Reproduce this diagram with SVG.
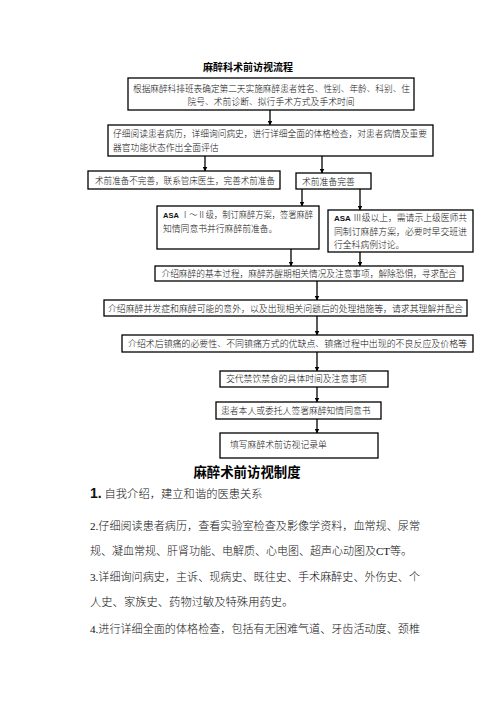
<svg xmlns="http://www.w3.org/2000/svg" width="496" height="702" viewBox="0 0 496 702">
<defs>
<marker id="ah" viewBox="0 0 10 10" refX="9" refY="5" markerWidth="5" markerHeight="5" orient="auto" markerUnits="userSpaceOnUse">
<path d="M0,0 L10,5 L0,10 z" fill="#000"/>
</marker>
<style>
.box{fill:#fff;stroke:#000;stroke-width:1.3}
.t{font-family:"Liberation Serif","Noto Sans CJK SC",serif;font-size:8.8px;font-weight:300;fill:#111}
.a{font-family:"Liberation Sans","Noto Sans CJK SC",sans-serif;font-weight:bold}
.ttl{font-family:"Noto Sans CJK SC",sans-serif;font-weight:bold;fill:#000}
.body{font-family:"Liberation Serif","Noto Sans CJK SC",serif;font-size:11.3px;font-weight:300;fill:#111}
.c{stroke:#000;stroke-width:1.3;fill:none}
.ca{stroke:#000;stroke-width:1.3;fill:none;marker-end:url(#ah)}
</style>
</defs>
<rect width="496" height="702" fill="#fff"/>
<text class="ttl" x="248" y="71" font-size="10" text-anchor="middle">麻醉科术前访视流程</text>

<g id="connectors">
<line class="ca" x1="270" y1="110" x2="270" y2="125"/>
<line class="ca" x1="205" y1="156" x2="205" y2="171"/>
<line class="ca" x1="322" y1="156" x2="322" y2="173"/>
<line class="ca" x1="302" y1="189" x2="302" y2="206"/>
<line class="ca" x1="360" y1="189" x2="360" y2="210"/>
<line class="ca" x1="291" y1="249" x2="291" y2="266"/>
<line class="ca" x1="360" y1="252" x2="360" y2="266"/>
<line class="ca" x1="317" y1="281" x2="317" y2="300"/>
<line class="ca" x1="317" y1="316" x2="317" y2="335"/>
<line class="ca" x1="317" y1="352" x2="317" y2="371"/>
<line class="ca" x1="317" y1="387" x2="317" y2="402"/>
<line class="ca" x1="317" y1="419" x2="317" y2="433"/>
</g>

<g id="n1">
<rect class="box" x="128" y="78" width="286" height="32"/>
<text class="t" x="133" y="92" textLength="277" lengthAdjust="spacingAndGlyphs">根据麻醉科排班表确定第二天实施麻醉患者姓名、性别、年龄、科别、住</text>
<text class="t" x="271" y="105" text-anchor="middle">院号、术前诊断、拟行手术方式及手术时间</text>
</g>
<g id="n2">
<rect class="box" x="108" y="125" width="325" height="31"/>
<text class="t" x="113" y="137" textLength="314" lengthAdjust="spacingAndGlyphs">仔细阅读患者病历，详细询问病史，进行详细全面的体格检查，对患者病情及重要</text>
<text class="t" x="113" y="151">器官功能状态作出全面评估</text>
</g>
<g id="n3">
<rect class="box" x="88" y="171" width="192" height="18"/>
<text class="t" x="95" y="183.5" textLength="180" lengthAdjust="spacingAndGlyphs">术前准备不完善，联系管床医生，完善术前准备</text>
</g>
<g id="n4">
<rect class="box" x="296" y="173" width="75" height="16"/>
<text class="t" x="302" y="184.5">术前准备完善</text>
</g>
<g id="n5">
<rect class="box" x="157" y="206" width="162" height="43"/>
<text class="t" x="163" y="218" textLength="150" lengthAdjust="spacingAndGlyphs"><tspan class="a" font-size="8">ASA</tspan> Ⅰ～Ⅱ级，制订麻醉方案，签署麻醉</text>
<text class="t" x="163" y="232">知情同意书并行麻醉前准备。</text>
</g>
<g id="n6">
<rect class="box" x="328" y="210" width="145" height="42"/>
<text class="t" x="334" y="221" textLength="133" lengthAdjust="spacingAndGlyphs"><tspan class="a" font-size="8">ASA</tspan> Ⅲ级以上，需请示上级医师共</text>
<text class="t" x="334" y="235" textLength="133" lengthAdjust="spacingAndGlyphs">同制订麻醉方案，必要时早交班进</text>
<text class="t" x="334" y="248">行全科病例讨论。</text>
</g>
<g id="n7">
<rect class="box" x="155" y="266" width="308" height="15"/>
<text class="t" x="309" y="277" text-anchor="middle" textLength="295" lengthAdjust="spacingAndGlyphs">介绍麻醉的基本过程，麻醉苏醒期相关情况及注意事项，解除恐惧，寻求配合</text>
</g>
<g id="n8">
<rect class="box" x="104" y="300" width="363" height="16"/>
<text class="t" x="285.5" y="311.5" text-anchor="middle" textLength="355" lengthAdjust="spacingAndGlyphs">介绍麻醉并发症和麻醉可能的意外，以及出现相关问题后的处理措施等，请求其理解并配合</text>
</g>
<g id="n9">
<rect class="box" x="122" y="335" width="351" height="17"/>
<text class="t" x="297.5" y="347" text-anchor="middle" textLength="339" lengthAdjust="spacingAndGlyphs">介绍术后镇痛的必要性、不同镇痛方式的优缺点、镇痛过程中出现的不良反应及价格等</text>
</g>
<g id="n10">
<rect class="box" x="220" y="371" width="168" height="16"/>
<text class="t" x="226" y="382">交代禁饮禁食的具体时间及注意事项</text>
</g>
<g id="n11">
<rect class="box" x="216" y="402" width="165" height="17"/>
<text class="t" x="221" y="414">患者本人或委托人签署麻醉知情同意书</text>
</g>
<g id="n12">
<rect class="box" x="220" y="433" width="158" height="25"/>
<text class="t" x="230" y="448">填写麻醉术前访视记录单</text>
</g>

<text class="ttl" x="247" y="477" font-size="13.4" text-anchor="middle">麻醉术前访视制度</text>
<text class="body" x="90" y="498"><tspan font-family="Liberation Sans,sans-serif" font-weight="bold" font-size="14">1.</tspan> 自我介绍，建立和谐的医患关系</text>
<text class="body" x="90" y="530" textLength="330" lengthAdjust="spacingAndGlyphs">2.仔细阅读患者病历，查看实验室检查及影像学资料，血常规、尿常</text>
<text class="body" x="90" y="555" textLength="322" lengthAdjust="spacingAndGlyphs">规、凝血常规、肝肾功能、电解质、心电图、超声心动图及CT等。</text>
<text class="body" x="90" y="581" textLength="330" lengthAdjust="spacingAndGlyphs">3.详细询问病史，主诉、现病史、既往史、手术麻醉史、外伤史、个</text>
<text class="body" x="90" y="606">人史、家族史、药物过敏及特殊用药史。</text>
<text class="body" x="90" y="633" textLength="330" lengthAdjust="spacingAndGlyphs">4.进行详细全面的体格检查，包括有无困难气道、牙齿活动度、颈椎</text>
</svg>
